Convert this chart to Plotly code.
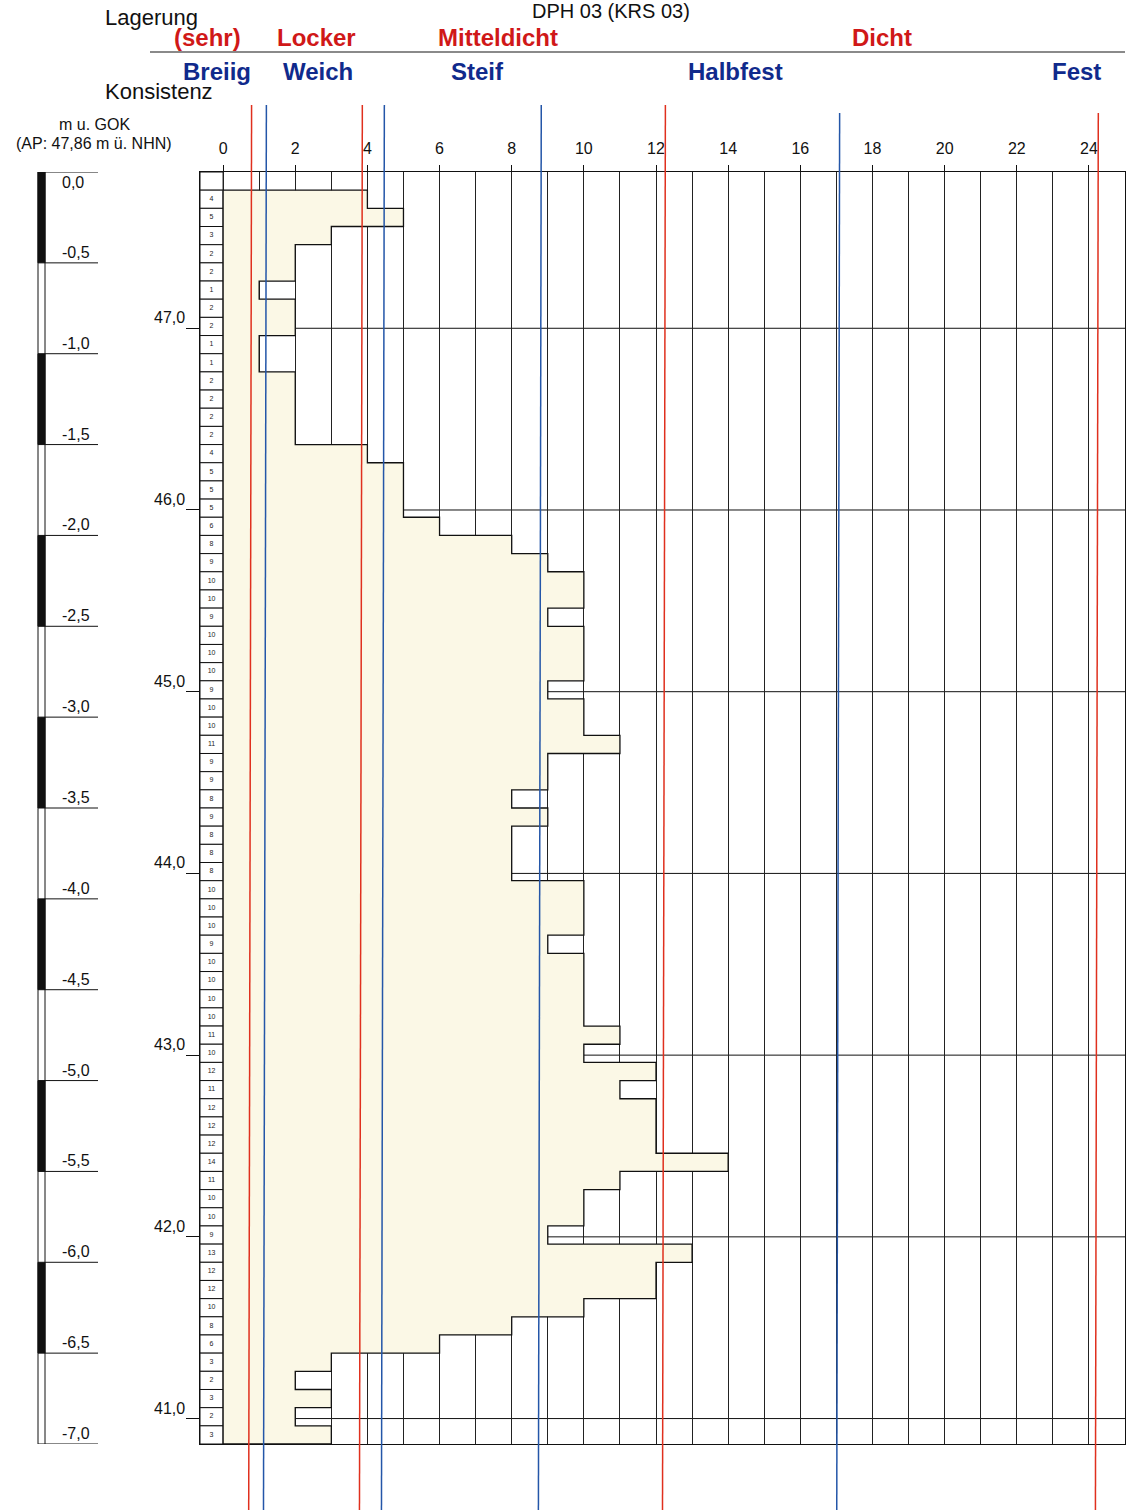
import plotly.graph_objects as go

# ---------------- data ----------------
title = "DPH 03 (KRS 03)"
ap_height = 47.86              # m ü. NHN
depth_step = 0.1               # m per blow-count interval
start_depth = 0.1              # first recorded interval starts here
# N10 blow counts per 10 cm, from 0.1 m to 7.0 m
blows = [4, 5, 3, 2, 2, 1, 2, 2, 1, 1,
         2, 2, 2, 2, 4, 5, 5, 5, 6, 8,
         9, 10, 10, 9, 10, 10, 10, 9, 10, 10,
         11, 9, 9, 8, 9, 8, 8, 8, 10, 10,
         10, 9, 10, 10, 10, 10, 11, 10, 12, 11,
         12, 12, 12, 14, 11, 10, 10, 9, 13, 12,
         12, 10, 8, 6, 3, 2, 3, 2, 3]
x_ticks = [0, 2, 4, 6, 8, 10, 12, 14, 16, 18, 20, 22, 24]
elev_levels = [47.0, 46.0, 45.0, 44.0, 43.0, 42.0, 41.0]
depth_labels = [0.0, -0.5, -1.0, -1.5, -2.0, -2.5, -3.0, -3.5, -4.0, -4.5,
                -5.0, -5.5, -6.0, -6.5, -7.0]
lagerung_labels = ["(sehr)", "Locker", "Mitteldicht", "Dicht"]
konsistenz_labels = ["Breiig", "Weich", "Steif", "Halbfest", "Fest"]
lagerung_bounds = [0.75, 3.82, 12.22, 24.22]     # red lines
konsistenz_bounds = [1.16, 4.43, 8.78, 17.05]    # blue lines

# ---------------- geometry ----------------
W, H = 1128, 1510
L, R, T, B = 200, 3, 172, 66
XMIN, XMAX = -0.64, 25.0
DMAX = 7.0
PW = W - L - R
PH = H - T - B
FONT = "Liberation Sans, Arial, sans-serif"
RED_TXT = "#D01818"
BLUE_TXT = "#102A8C"
RED_LN = "#E0301E"
BLUE_LN = "#2456A8"


def px(xp):
    return (xp - L) / PW


def py(yp):
    return (H - B - yp) / PH


# step polygon
xs, ys = [0], [start_depth]
for i, v in enumerate(blows):
    d0 = round(start_depth + i * depth_step, 3)
    xs += [v, v]
    ys += [d0, round(d0 + depth_step, 3)]
xs += [0, 0]
ys += [round(start_depth + len(blows) * depth_step, 3), start_depth]

fig = go.Figure()
fig.add_trace(go.Scatter(x=xs, y=ys, mode="lines", fill="toself",
                         fillcolor="#FBF8E6",
                         line=dict(color="#111", width=1.3),
                         hoverinfo="skip", showlegend=False))

mid = [round(start_depth + (i + 0.5) * depth_step, 3) for i in range(len(blows))]
fig.add_trace(go.Scatter(x=[XMIN / 2] * len(blows), y=mid, mode="text",
                         text=[str(v) for v in blows],
                         textfont=dict(size=7, color="#222", family=FONT),
                         hoverinfo="skip", showlegend=False))

shapes = []
# number column cells
n_cells = int(round(DMAX / depth_step))
for i in range(n_cells):
    shapes.append(dict(type="rect", xref="x", yref="y", x0=XMIN, x1=0,
                       y0=i * depth_step, y1=(i + 1) * depth_step,
                       line=dict(color="#111", width=1), fillcolor="white",
                       layer="below"))
# elevation grid lines (covered by fill)
elev_depths = [round(ap_height - e, 3) for e in elev_levels]
for d in elev_depths:
    shapes.append(dict(type="line", xref="x", yref="y", x0=0, x1=XMAX,
                       y0=d, y1=d, line=dict(color="#111", width=1),
                       layer="below"))
# boundary lines (slightly skewed like the scan)
tilt = 0.04
for xv in lagerung_bounds:
    top = 105 if xv < 15 else 113
    shapes.append(dict(type="line", xref="x", yref="paper", x0=xv + tilt, x1=xv - tilt,
                       y0=py(top), y1=py(1512), line=dict(color=RED_LN, width=1.5),
                       layer="above"))
for xv in konsistenz_bounds:
    top = 105 if xv < 15 else 113
    shapes.append(dict(type="line", xref="x", yref="paper", x0=xv + tilt, x1=xv - tilt,
                       y0=py(top), y1=py(1512), line=dict(color=BLUE_LN, width=1.5),
                       layer="above"))
# header separator
shapes.append(dict(type="line", xref="paper", yref="paper", x0=px(150), x1=px(1125),
                   y0=py(52), y1=py(52), line=dict(color="#8a8a8a", width=2)))
# depth ruler
bx0, bx1 = px(38), px(45)
shapes.append(dict(type="rect", xref="paper", yref="y", x0=bx0, x1=bx1,
                   y0=0, y1=DMAX, line=dict(color="#111", width=1), fillcolor="white"))
for k in range(0, 14, 2):
    shapes.append(dict(type="rect", xref="paper", yref="y", x0=bx0, x1=bx1,
                       y0=k * 0.5, y1=(k + 1) * 0.5, line=dict(color="#111", width=1),
                       fillcolor="#111"))
for dl in depth_labels:
    shapes.append(dict(type="line", xref="paper", yref="y", x0=bx1, x1=px(98),
                       y0=-dl, y1=-dl, line=dict(color="#111", width=1)))
fig.update_layout(shapes=shapes)

ann = []


def txt(text, x, y, size, color="#111", xanchor="center", yanchor="middle",
        xref="paper", yref="paper"):
    ann.append(dict(text=text, x=x, y=y, xref=xref, yref=yref, showarrow=False,
                    xanchor=xanchor, yanchor=yanchor,
                    font=dict(size=size, color=color, family=FONT)))


txt(title, px(611), py(11), 20)
txt("Lagerung", px(103), py(17), 22, xanchor="left")
txt("Konsistenz", px(103), py(91), 22, xanchor="left")
for t, xc in zip(lagerung_labels, [207, 316, 498, 882]):
    txt("<b>" + t + "</b>", px(xc), py(37), 24, RED_TXT)
for t, xc in zip(konsistenz_labels, [217, 318, 477, 735, 1076]):
    txt("<b>" + t + "</b>", px(xc), py(72), 24, BLUE_TXT)
txt("m u. GOK", px(94), py(124), 16)
txt("(AP: 47,86 m ü. NHN)", px(94), py(144), 16)
for dl in depth_labels:
    lab = ("%.1f" % dl).replace(".", ",")
    if dl == 0:
        txt(lab, px(60), -dl, 16, xanchor="left", yanchor="top", yref="y")
    else:
        txt(lab, px(60), -dl, 16, xanchor="left", yanchor="bottom", yref="y")
for e, d in zip(elev_levels, elev_depths):
    txt(("%.1f" % e).replace(".", ","), px(187), d, 16, xanchor="right",
        yanchor="bottom", yref="y")
fig.update_layout(annotations=ann)

fig.update_layout(
    width=W, height=H, margin=dict(l=L, r=R, t=T, b=B, autoexpand=False),
    paper_bgcolor="white", plot_bgcolor="white", showlegend=False,
    xaxis=dict(range=[XMIN, XMAX], side="top", tickvals=x_ticks,
               ticktext=[str(v) for v in x_ticks], ticks="outside", ticklen=6,
               tickcolor="#111", tickfont=dict(size=16, family=FONT, color="#111"),
               ticklabelstandoff=5,
               showgrid=True, gridcolor="#222", gridwidth=1,
               minor=dict(dtick=1, tick0=0, showgrid=True, gridcolor="#222",
                          gridwidth=1),
               showline=True, linecolor="#111", linewidth=1.2, mirror=True,
               zeroline=False, fixedrange=True),
    yaxis=dict(range=[DMAX, 0], tickvals=elev_depths, ticks="outside", ticklen=13,
               tickcolor="#111", showticklabels=False, showgrid=False,
               showline=True, linecolor="#111", linewidth=1.2, mirror=True,
               zeroline=False, fixedrange=True),
)

fig.write_html("out.html")
